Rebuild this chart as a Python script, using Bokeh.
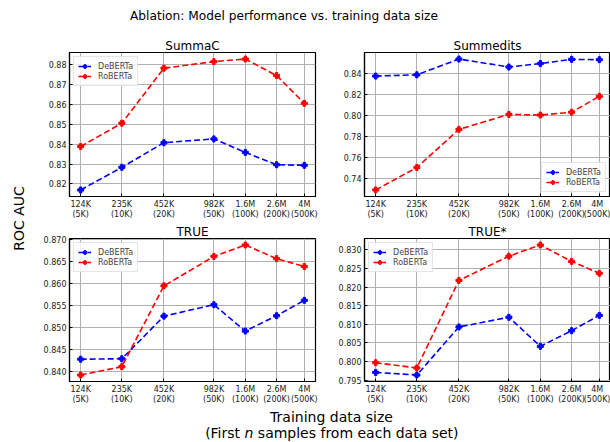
import math
from bokeh.plotting import figure
from bokeh.models import (Range1d, FixedTicker, Legend, LegendItem, Label,
                          NumeralTickFormatter)
from bokeh.layouts import row, column
from bokeh.embed import file_html
from bokeh.resources import INLINE

FONT = "DejaVu Sans"

# ---------------- data ----------------
sizes = [124e3, 235e3, 452e3, 982e3, 1.6e6, 2.6e6, 4e6]
size_labels = ["124K\n(5K)", "235K\n(10K)", "452K\n(20K)", "982K\n(50K)",
               "1.6M\n(100K)", "2.6M\n(200K)", "4M\n(500K)"]
series_names = ["DeBERTa", "RoBERTa"]

summac_deberta = [0.8170, 0.8284, 0.8408, 0.8427, 0.8359, 0.8297, 0.8294]
summac_roberta = [0.8389, 0.8506, 0.8783, 0.8816, 0.8829, 0.8746, 0.8606]
summedits_deberta = [0.8376, 0.8388, 0.8539, 0.8463, 0.8496, 0.8536, 0.8533]
summedits_roberta = [0.7286, 0.7501, 0.7866, 0.8009, 0.8003, 0.8030, 0.8182]
true_deberta = [0.8427, 0.8428, 0.8525, 0.8551, 0.8491, 0.8526, 0.8561]
true_roberta = [0.8391, 0.8410, 0.8594, 0.8661, 0.8687, 0.8656, 0.8638]
truestar_deberta = [0.7971, 0.7964, 0.8093, 0.8119, 0.8041, 0.8083, 0.8124]
truestar_roberta = [0.7997, 0.7983, 0.8218, 0.8283, 0.8313, 0.8269, 0.8237]

summac_yticks = [0.82, 0.83, 0.84, 0.85, 0.86, 0.87, 0.88]
summedits_yticks = [0.74, 0.76, 0.78, 0.80, 0.82, 0.84]
true_yticks = [0.840, 0.845, 0.850, 0.855, 0.860, 0.865, 0.870]
truestar_yticks = [0.795, 0.800, 0.805, 0.810, 0.815, 0.820, 0.825, 0.830]

title_text = "Ablation: Model performance vs. training data size"
ylabel_text = "ROC AUC"
xlabel_line1 = "Training data size"
xlabel_pre = "(First"
xlabel_n = "n"
xlabel_post = "samples from each data set)"

colors = ["#0000ff", "#ff0000"]

FRAME_H = 150


def padded_log_range(vals):
    lo, hi = math.log10(min(vals)), math.log10(max(vals))
    pad = 0.05 * (hi - lo)
    return Range1d(10 ** (lo - pad), 10 ** (hi + pad))


def padded_range(*arrs):
    allv = [v for a in arrs for v in a]
    lo, hi = min(allv), max(allv)
    pad = 0.05 * (hi - lo)
    return Range1d(lo - pad, hi + pad)


def panel(title, deb, rob, yticks, yfmt, legend_loc, fw, bl, br, bt, bb):
    p = figure(width=bl + fw + br, height=bt + FRAME_H + bb,
               x_axis_type="log", x_range=padded_log_range(sizes),
               y_range=padded_range(deb, rob),
               toolbar_location=None, output_backend="svg",
               min_border_left=bl, min_border_right=br,
               min_border_top=bt, min_border_bottom=bb,
               background_fill_color="white", border_fill_color="white")
    p.title.text = title
    p.title.align = "center"
    p.title.text_font = FONT
    p.title.text_font_size = "12px"
    p.title.text_font_style = "normal"
    p.title.text_color = "black"
    p.title.standoff = 0
    p.title.offset = 0

    p.outline_line_color = "black"
    p.outline_line_width = 1.2
    p.outline_line_alpha = 1

    p.xaxis.ticker = FixedTicker(ticks=sizes)
    p.xaxis.major_label_overrides = {s: l for s, l in zip(sizes, size_labels)}
    p.yaxis.ticker = FixedTicker(ticks=yticks)
    p.yaxis.formatter = NumeralTickFormatter(format=yfmt)
    for ax in (p.xaxis, p.yaxis):
        ax.major_tick_in = 3
        ax.major_tick_out = 0
        ax.minor_tick_line_color = None
        ax.axis_line_color = "black"
        ax.axis_line_width = 1.2
        ax.major_tick_line_color = "black"
        ax.major_label_text_font = FONT
        ax.major_label_text_font_size = "8px"
        ax.major_label_text_color = "#222222"
        ax.major_label_standoff = 3
    p.grid.grid_line_color = "#b0b0b0"
    p.grid.grid_line_width = 1

    items = []
    for name, vals, col in zip(series_names, (deb, rob), colors):
        ln = p.line(sizes, vals, line_color=col, line_width=1.6, line_dash="6 3")
        sc = p.scatter(sizes, vals, marker="plus", size=6, fill_color=col,
                       line_color=col)
        items.append(LegendItem(label=name, renderers=[ln, sc]))
    leg = Legend(items=items, location=legend_loc)
    leg.label_text_font = FONT
    leg.label_text_font_size = "8px"
    leg.label_height = 10
    leg.glyph_height = 10
    leg.glyph_width = 13
    leg.spacing = 0
    leg.padding = 4
    leg.margin = 4
    leg.label_standoff = 7
    leg.border_line_color = "#cccccc"
    leg.border_line_width = 1
    leg.background_fill_alpha = 0.85
    p.add_layout(leg)
    return p


def text_fig(w, h):
    f = figure(width=w, height=h, x_range=Range1d(0, w), y_range=Range1d(0, h),
               toolbar_location=None, output_backend="svg",
               x_axis_location=None, y_axis_location=None,
               min_border=0, min_border_left=0, min_border_right=0,
               min_border_top=0, min_border_bottom=0)
    f.outline_line_color = None
    f.grid.visible = False
    return f


# top row
pA = panel("SummaC", summac_deberta, summac_roberta, summac_yticks, "0.00",
           "top_left", 246, 39, 17, 22, 20)
pB = panel("Summedits", summedits_deberta, summedits_roberta, summedits_yticks,
           "0.00", "bottom_right", 246, 32, 0, 22, 20)
# bottom row
pC = panel("TRUE", true_deberta, true_roberta, true_yticks, "0.000",
           "top_left", 246, 39, 17, 14, 21)
pD = panel("TRUE*", truestar_deberta, truestar_roberta, truestar_yticks,
           "0.000", "top_left", 246, 32, 0, 14, 21)

TOTAL_W = 610
# title
TH = 30
tf = text_fig(TOTAL_W, TH)
tf.add_layout(Label(x=283.5, y=TH - 15, text=title_text, text_align="center",
                    text_baseline="middle", text_font=FONT,
                    text_font_size="12.2px", text_color="black"))

# y label
grid_h = pA.height + pC.height
yf = text_fig(30, grid_h)
yf.add_layout(Label(x=18, y=grid_h - 188, text=ylabel_text, angle=math.pi / 2,
                    text_align="center", text_baseline="middle",
                    text_font=FONT, text_font_size="14px", text_color="black"))

# x label
XH = 442 - TH - grid_h
xf = text_fig(TOTAL_W, XH)
xf.add_layout(Label(x=331, y=XH - 9, text=xlabel_line1, text_align="center",
                    text_baseline="middle", text_font=FONT,
                    text_font_size="14px", text_color="black"))
fs = 14.0
space_w = 0.318 * fs
n_w = 0.634 * fs
pre_w = 2.567 * fs
full_w = 18.198 * fs
x_pre_end = 331 - full_w / 2 + pre_w
x_n = x_pre_end + space_w
x_post = x_n + n_w + space_w
y2 = XH - 25
xf.add_layout(Label(x=x_pre_end, y=y2, text=xlabel_pre, text_align="right",
                    text_baseline="middle", text_font=FONT,
                    text_font_size="14px", text_color="black"))
xf.add_layout(Label(x=x_n, y=y2, text=xlabel_n, text_align="left",
                    text_baseline="middle", text_font=FONT,
                    text_font_size="14px", text_font_style="italic",
                    text_color="black"))
xf.add_layout(Label(x=x_post, y=y2, text=xlabel_post, text_align="left",
                    text_baseline="middle", text_font=FONT,
                    text_font_size="14px", text_color="black"))

layout = column(tf, row(yf, column(row(pA, pB), row(pC, pD))), xf)

open("out.html", "w").write(file_html(layout, INLINE))
